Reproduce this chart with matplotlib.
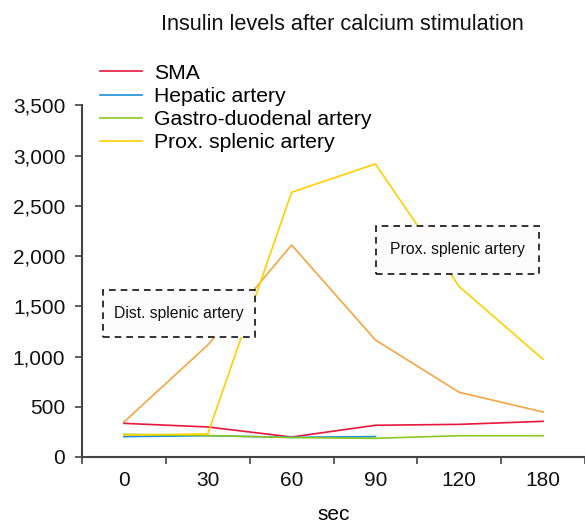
import matplotlib.pyplot as plt
from matplotlib.patches import Rectangle

plt.rcParams['font.family'] = ['Liberation Sans', 'DejaVu Sans']

# time points (categorical x axis)
sec_labels = ["0", "30", "60", "90", "120", "180"]

# insulin levels
sma = [335, 299, 199, 316, 325, 355]
hepatic = [203, 212, 196, 203]            # stops at 90 sec
gastro_duodenal = [226, 214, 193, 186, 212, 212]
prox_splenic = [219, 229, 2636, 2918, 1696, 973]
dist_splenic = [348, 1115, 2111, 1165, 644, 448]

series = [
    ("SMA", sma, "#e8173c"),
    ("Hepatic artery", hepatic, "#1a8fd6"),
    ("Gastro-duodenal artery", gastro_duodenal, "#8cc820"),
    ("Prox. splenic artery", prox_splenic, "#ffd000"),
]

fig = plt.figure(figsize=(5.85, 5.23), dpi=100)
ax = fig.add_axes([0.1402, 0.1262, 0.8598, 0.6721])

for name, vals, col in series:
    ax.plot(range(len(vals)), vals, color=col, lw=1.2, label=name, zorder=3)
ax.plot(range(len(dist_splenic)), dist_splenic, color="#f4a640", lw=1.2,
        label="_nolegend_", zorder=2)

ax.set_xlim(-0.5, 5.43)
ax.set_ylim(0, 3500)
ax.set_yticks(range(0, 3501, 500))
ax.set_yticklabels([f"{v:,}" for v in range(0, 3501, 500)])
ax.set_xticks(range(len(sec_labels)))
ax.set_xticklabels(sec_labels)
ax.set_xticks([i - 0.5 for i in range(len(sec_labels) + 1)], minor=True)

for s in ["top", "right"]:
    ax.spines[s].set_visible(False)
for s in ["left", "bottom"]:
    ax.spines[s].set_color("#444444")
    ax.spines[s].set_linewidth(1.5)

ax.tick_params(axis="y", length=5, width=1.2, color="#444444", pad=7,
               labelsize=15, labelcolor="#111111")
ax.tick_params(axis="x", which="major", length=0, pad=10, labelsize=15,
               labelcolor="#111111")
ax.tick_params(axis="x", which="minor", length=5, width=1.2, color="#444444")

ax.set_xlabel("sec", fontsize=15, labelpad=11)

# annotation boxes
boxes = [
    ((-0.247, 1195), 1.812, 468, "Dist. splenic artery"),
    ((3.012, 1823), 1.941, 478, "Prox. splenic artery"),
]
for (x0, y0), w, h, txt in boxes:
    ax.add_patch(Rectangle((x0, y0), w, h, facecolor="#fcfcfc",
                           edgecolor="#111111", lw=1.2, ls=(0, (4, 3)),
                           zorder=5, clip_on=False))
    ax.text(x0 + w / 2, y0 + h / 2, txt, ha="center", va="center",
            fontsize=11.3, color="#111111", zorder=6)

fig.text(0.585, 0.954, "Insulin levels after calcium stimulation",
         ha="center", va="center", fontsize=15.7, color="#111111")

fig.legend(loc="upper left", bbox_to_anchor=(0.171, 0.878), frameon=False,
           fontsize=15.2, handlelength=2.0, handletextpad=0.55,
           labelspacing=0.2, borderaxespad=0, borderpad=0)

fig.savefig("out.png", dpi=100)
